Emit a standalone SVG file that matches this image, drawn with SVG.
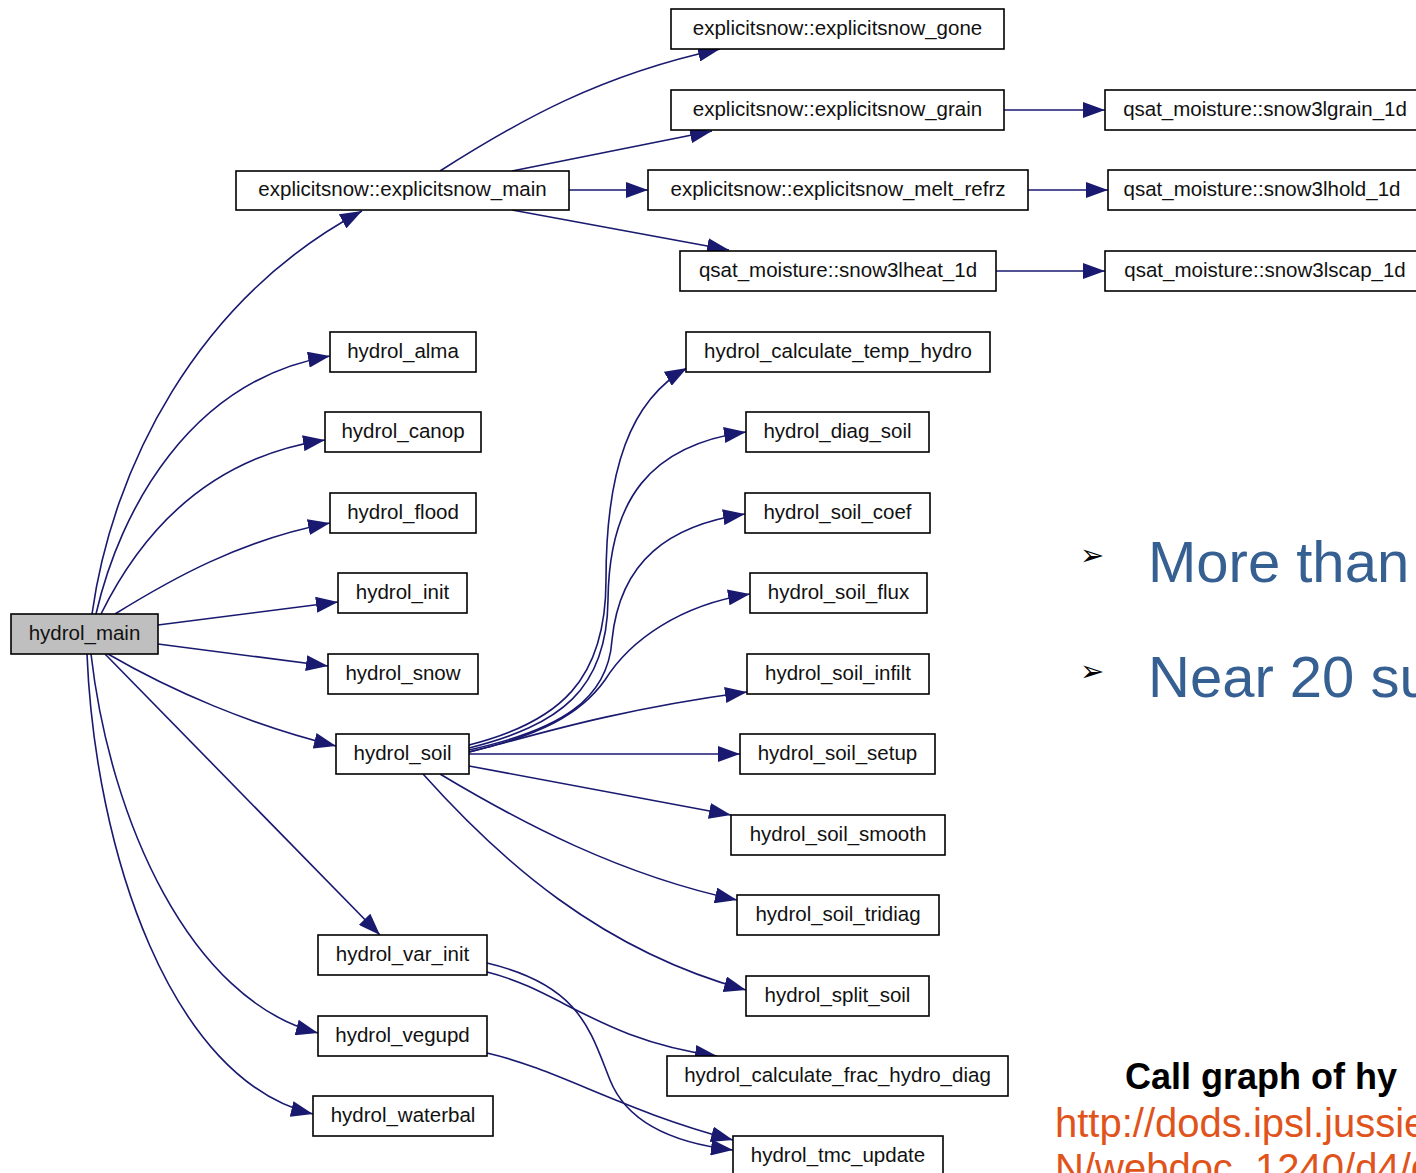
<svg xmlns="http://www.w3.org/2000/svg" width="1416" height="1173" viewBox="0 0 1416 1173">
  <style>
    .node rect { fill: #ffffff; stroke: #000000; stroke-width: 1.6; }
    .node.root rect { fill: #bfbfbf; }
    .node text { font-family: "Liberation Sans", Arial, sans-serif; font-size: 20.5px; fill: #111111; text-anchor: middle; }
    .edges path { fill: none; stroke: #191970; stroke-width: 1.6; marker-end: url(#arrow); }
    .bullet { font-family: "DejaVu Sans", sans-serif; font-size: 29px; fill: #000000; }
    .point { font-family: "Liberation Sans", Arial, sans-serif; font-size: 58px; fill: #366092; }
    .caption { font-family: "Liberation Sans", Arial, sans-serif; font-size: 36px; font-weight: bold; fill: #000000; }
    .link { font-family: "Liberation Sans", Arial, sans-serif; font-size: 40px; fill: #e0541c; }
  </style>
  <defs>
    <marker id="arrow" markerUnits="userSpaceOnUse" markerWidth="22" markerHeight="16" refX="22" refY="8" orient="auto">
      <path d="M0,0 L22,8 L0,16 z" fill="#191970"/>
    </marker>
  </defs>
  <rect width="1416" height="1173" fill="#ffffff"/>

  <!-- call edges -->
  <g class="edges" id="edges">
    <!-- hydrol_main callees -->
    <path d="M92,614 C112,470 195,300 362,211"/>
    <path d="M96,614 C120,510 190,380 330,356"/>
    <path d="M101,614 C140,535 205,458 325,440"/>
    <path d="M115,614 C170,580 240,540 330,523"/>
    <path d="M158,625 L338,602"/>
    <path d="M158,644 L328,666"/>
    <path d="M108,654 C170,690 250,725 336,746"/>
    <path d="M105,654 L380,935"/>
    <path d="M91,654 C110,820 190,1000 318,1033"/>
    <path d="M87,654 C95,850 170,1080 313,1114"/>
    <!-- explicitsnow_main callees -->
    <path d="M440,171 C520,120 600,75 720,49"/>
    <path d="M512,171 L712,131"/>
    <path d="M569,190 L648,190"/>
    <path d="M512,210 L729,250"/>
    <path d="M1004,110 L1105,110"/>
    <path d="M1028,190 L1108,190"/>
    <path d="M996,271 L1105,271"/>
    <!-- hydrol_soil callees -->
    <path d="M469,745 C560,722 606,680 606,580 C606,470 630,400 687,368"/>
    <path d="M469,748 C560,725 607,690 608,600 C609,500 650,445 746,432"/>
    <path d="M469,750 C560,730 608,700 612,640 C620,560 670,525 745,514"/>
    <path d="M469,752 C540,735 580,715 605,680 C630,640 680,605 750,594"/>
    <path d="M469,752 C520,740 600,712 747,692"/>
    <path d="M469,754 L740,754"/>
    <path d="M469,766 L731,815"/>
    <path d="M440,774 C520,822 620,875 737,900"/>
    <path d="M423,774 C500,860 600,950 746,990"/>
    <!-- hydrol_var_init / hydrol_vegupd callees -->
    <path d="M487,972 C560,990 600,1040 717,1056"/>
    <path d="M487,963 C580,985 590,1030 610,1080 C630,1130 690,1145 733,1150"/>
    <path d="M487,1053 C560,1070 620,1110 733,1140"/>
  </g>

  <!-- nodes -->
  <g class="node root" id="hydrol_main"><rect x="11" y="614" width="147" height="40"/><text x="84.5" y="640">hydrol_main</text></g>
  <g class="node" id="explicitsnow_main"><rect x="236" y="171" width="333" height="39"/><text x="402.5" y="196">explicitsnow::explicitsnow_main</text></g>
  <g class="node" id="explicitsnow_gone"><rect x="671" y="9" width="333" height="40"/><text x="837.5" y="35">explicitsnow::explicitsnow_gone</text></g>
  <g class="node" id="explicitsnow_grain"><rect x="671" y="90" width="333" height="40"/><text x="837.5" y="116">explicitsnow::explicitsnow_grain</text></g>
  <g class="node" id="explicitsnow_melt_refrz"><rect x="648" y="170" width="380" height="40"/><text x="838" y="196">explicitsnow::explicitsnow_melt_refrz</text></g>
  <g class="node" id="snow3lheat_1d"><rect x="680" y="251" width="316" height="40"/><text x="838" y="277">qsat_moisture::snow3lheat_1d</text></g>
  <g class="node" id="snow3lgrain_1d"><rect x="1105" y="90" width="320" height="40"/><text x="1265" y="116">qsat_moisture::snow3lgrain_1d</text></g>
  <g class="node" id="snow3lhold_1d"><rect x="1108" y="170" width="320" height="40"/><text x="1262" y="196">qsat_moisture::snow3lhold_1d</text></g>
  <g class="node" id="snow3lscap_1d"><rect x="1105" y="251" width="320" height="40"/><text x="1265" y="277">qsat_moisture::snow3lscap_1d</text></g>

  <g class="node" id="hydrol_alma"><rect x="330" y="332" width="146" height="40"/><text x="403" y="358">hydrol_alma</text></g>
  <g class="node" id="hydrol_canop"><rect x="325" y="412" width="156" height="40"/><text x="403" y="438">hydrol_canop</text></g>
  <g class="node" id="hydrol_flood"><rect x="330" y="493" width="146" height="40"/><text x="403" y="519">hydrol_flood</text></g>
  <g class="node" id="hydrol_init"><rect x="338" y="573" width="129" height="40"/><text x="402.5" y="599">hydrol_init</text></g>
  <g class="node" id="hydrol_snow"><rect x="328" y="654" width="150" height="40"/><text x="403" y="680">hydrol_snow</text></g>
  <g class="node" id="hydrol_soil"><rect x="336" y="734" width="133" height="40"/><text x="402.5" y="760">hydrol_soil</text></g>
  <g class="node" id="hydrol_var_init"><rect x="318" y="935" width="169" height="40"/><text x="402.5" y="961">hydrol_var_init</text></g>
  <g class="node" id="hydrol_vegupd"><rect x="318" y="1016" width="169" height="40"/><text x="402.5" y="1042">hydrol_vegupd</text></g>
  <g class="node" id="hydrol_waterbal"><rect x="313" y="1096" width="180" height="40"/><text x="403" y="1122">hydrol_waterbal</text></g>

  <g class="node" id="hydrol_calculate_temp_hydro"><rect x="686" y="332" width="304" height="40"/><text x="838" y="358">hydrol_calculate_temp_hydro</text></g>
  <g class="node" id="hydrol_diag_soil"><rect x="746" y="412" width="183" height="40"/><text x="837.5" y="438">hydrol_diag_soil</text></g>
  <g class="node" id="hydrol_soil_coef"><rect x="745" y="493" width="185" height="40"/><text x="837.5" y="519">hydrol_soil_coef</text></g>
  <g class="node" id="hydrol_soil_flux"><rect x="750" y="573" width="177" height="40"/><text x="838.5" y="599">hydrol_soil_flux</text></g>
  <g class="node" id="hydrol_soil_infilt"><rect x="747" y="654" width="182" height="40"/><text x="838" y="680">hydrol_soil_infilt</text></g>
  <g class="node" id="hydrol_soil_setup"><rect x="740" y="734" width="195" height="40"/><text x="837.5" y="760">hydrol_soil_setup</text></g>
  <g class="node" id="hydrol_soil_smooth"><rect x="731" y="815" width="214" height="40"/><text x="838" y="841">hydrol_soil_smooth</text></g>
  <g class="node" id="hydrol_soil_tridiag"><rect x="737" y="895" width="202" height="40"/><text x="838" y="921">hydrol_soil_tridiag</text></g>
  <g class="node" id="hydrol_split_soil"><rect x="746" y="976" width="183" height="40"/><text x="837.5" y="1002">hydrol_split_soil</text></g>
  <g class="node" id="hydrol_calculate_frac_hydro_diag"><rect x="667" y="1056" width="341" height="40"/><text x="837.5" y="1082">hydrol_calculate_frac_hydro_diag</text></g>
  <g class="node" id="hydrol_tmc_update"><rect x="733" y="1136" width="210" height="40"/><text x="838" y="1162">hydrol_tmc_update</text></g>

  <!-- side notes -->
  <text class="bullet" x="1080" y="565">➢</text>
  <text class="point" x="1148" y="582">More than</text>
  <text class="bullet" x="1080" y="681">➢</text>
  <text class="point" x="1148" y="697">Near 20 su</text>

  <text class="caption" x="1125" y="1089">Call graph of hy</text>
  <text class="link" x="1055" y="1137">http://dods.ipsl.jussie</text>
  <text class="link" x="1055" y="1182">N/webdoc_1240/d4/d</text>
</svg>
